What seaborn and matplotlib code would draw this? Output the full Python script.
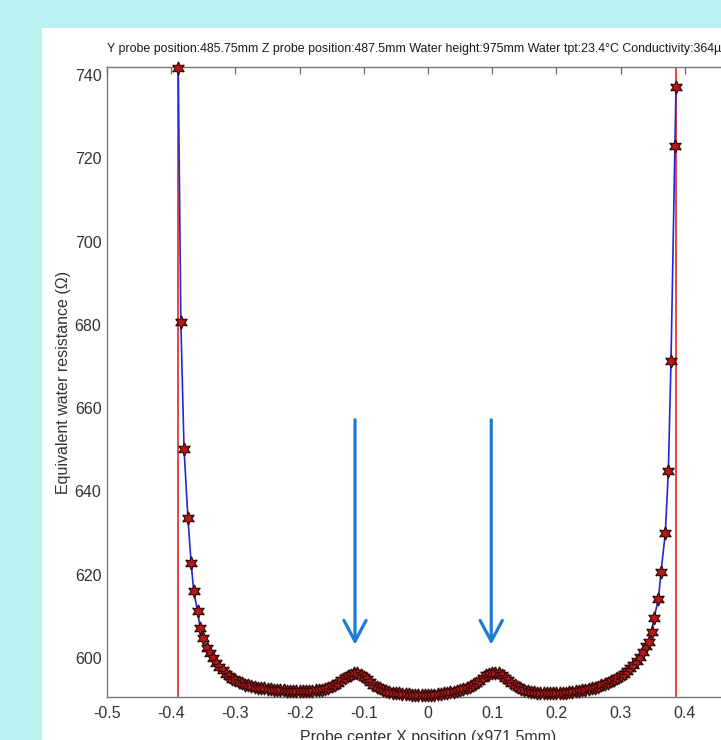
import matplotlib
matplotlib.use("Agg")
import matplotlib.pyplot as plt
from matplotlib import font_manager
from matplotlib.patches import Rectangle
import seaborn as sns
import pandas as pd

# ---- data ----
x_pos = [-0.389, -0.385, -0.380, -0.374, -0.369, -0.365, -0.359, -0.355, -0.350, -0.345,
         -0.340, -0.335, -0.330, -0.325, -0.320, -0.315, -0.310, -0.305, -0.300, -0.295,
         -0.290, -0.285, -0.280, -0.275, -0.270, -0.265, -0.260, -0.255, -0.250, -0.245,
         -0.240, -0.235, -0.230, -0.225, -0.220, -0.215, -0.210, -0.205, -0.200, -0.195,
         -0.190, -0.185, -0.180, -0.175, -0.170, -0.165, -0.160, -0.155, -0.150, -0.145,
         -0.140, -0.135, -0.130, -0.125, -0.120, -0.115, -0.110, -0.105, -0.100, -0.095,
         -0.090, -0.085, -0.080, -0.075, -0.070, -0.065, -0.060, -0.055, -0.050, -0.045,
         -0.040, -0.035, -0.030, -0.025, -0.020, -0.015, -0.010, -0.005, 0.000, 0.005,
         0.010, 0.015, 0.020, 0.025, 0.030, 0.035, 0.040, 0.045, 0.050, 0.055,
         0.060, 0.065, 0.070, 0.075, 0.080, 0.085, 0.090, 0.095, 0.100, 0.105,
         0.110, 0.115, 0.120, 0.125, 0.130, 0.135, 0.140, 0.145, 0.150, 0.155,
         0.160, 0.165, 0.170, 0.175, 0.180, 0.185, 0.190, 0.195, 0.200, 0.205,
         0.210, 0.215, 0.220, 0.225, 0.230, 0.235, 0.240, 0.245, 0.250, 0.255,
         0.260, 0.265, 0.270, 0.275, 0.280, 0.285, 0.290, 0.295, 0.300, 0.305,
         0.310, 0.315, 0.320, 0.325, 0.330, 0.335, 0.340, 0.3442, 0.3484, 0.352,
         0.3588, 0.363, 0.3697, 0.3744, 0.3785, 0.3847, 0.3863]
resistance = [741.7, 680.8, 650.2, 633.7, 622.9, 616.1, 611.3, 607.3, 604.8, 602.4,
              601.2, 600.1, 598.9, 597.8, 597.0, 596.2, 595.6, 595.0, 594.6, 594.2,
              593.9, 593.6, 593.4, 593.2, 593.0, 592.9, 592.8, 592.7, 592.6, 592.5,
              592.4, 592.3, 592.2, 592.2, 592.1, 592.1, 592.0, 592.0, 592.0, 592.0,
              592.0, 592.1, 592.1, 592.2, 592.3, 592.4, 592.6, 592.9, 593.2, 593.6,
              594.1, 594.6, 595.1, 595.6, 596.0, 596.3, 596.3, 596.0, 595.5, 594.9,
              594.2, 593.6, 593.1, 592.7, 592.3, 592.0, 591.8, 591.7, 591.6, 591.5,
              591.4, 591.3, 591.3, 591.2, 591.2, 591.2, 591.1, 591.1, 591.1, 591.2,
              591.2, 591.3, 591.4, 591.5, 591.6, 591.8, 591.9, 592.1, 592.3, 592.5,
              592.7, 593.0, 593.4, 593.9, 594.5, 595.1, 595.8, 596.2, 596.5, 596.5,
              596.3, 595.9, 595.3, 594.6, 594.0, 593.4, 593.0, 592.6, 592.3, 592.1,
              591.9, 591.8, 591.7, 591.6, 591.6, 591.6, 591.6, 591.6, 591.6, 591.6,
              591.7, 591.7, 591.8, 591.9, 592.0, 592.1, 592.2, 592.4, 592.5, 592.7,
              592.9, 593.1, 593.4, 593.7, 594.0, 594.4, 594.8, 595.2, 595.6, 596.2,
              596.8, 597.6, 598.4, 599.2, 600.2, 601.4, 602.8, 603.8, 606.3, 609.6,
              614.1, 620.7, 630.1, 645.0, 671.2, 723.0, 737.2]
boundary_x = [-0.389, 0.386]
arrow_x = [-0.1137, 0.0985]
arrow_y_top = 657.2
arrow_y_tip = 603.2
x_ticks = [-0.5, -0.4, -0.3, -0.2, -0.1, 0.0, 0.1, 0.2, 0.3, 0.4, 0.5]
x_tick_labels = ["-0.5", "-0.4", "-0.3", "-0.2", "-0.1", "0", "0.1", "0.2", "0.3", "0.4", ""]
y_ticks = [600, 620, 640, 660, 680, 700, 720, 740]
title_text = ("Y probe position:485.75mm Z probe position:487.5mm Water height:975mm "
              "Water tpt:23.4\u00b0C Conductivity:364\u00b5S/cm")
x_label = "Probe center X position (x971.5mm)"
y_label = "Equivalent water resistance (\u03a9)"

df = pd.DataFrame({"x": x_pos, "r": resistance})

sns.set_theme(style="white")
plt.rcParams["font.family"] = ["Liberation Sans", "DejaVu Sans"]
names = {f.name for f in font_manager.fontManager.ttflist}
narrow = "Liberation Sans Narrow" if "Liberation Sans Narrow" in names else None

W, H = 721, 740
fig = plt.figure(figsize=(W / 100, H / 100), dpi=100)
fig.patch.set_facecolor("#bcf1f1")
panel = Rectangle((42 / W, 0), 1.0, (H - 28) / H, transform=fig.transFigure,
                  facecolor="white", edgecolor="none", zorder=-10)
fig.add_artist(panel)

ax = fig.add_axes([107 / W, (H - 696.7) / H, 642 / W, (696.7 - 67.3) / H])
ax.set_zorder(1)
ax.set_facecolor("white")

for bx in boundary_x:
    ax.axvline(bx, color="#e23a34", lw=1.3, zorder=1)

sns.lineplot(data=df, x="x", y="r", ax=ax, sort=False, estimator=None,
             color="#2626d6", linewidth=1.2, marker=(6, 1, 0), markersize=9.5,
             markerfacecolor="#b41a1a", markeredgecolor="#3a0a0a",
             markeredgewidth=0.9, zorder=3, clip_on=False)

for axx in arrow_x:
    ax.annotate("", xy=(axx, arrow_y_tip), xytext=(axx, arrow_y_top),
                arrowprops=dict(arrowstyle="->,head_length=0.75,head_width=0.4",
                                color="#1f7ad6", lw=2.3, mutation_scale=20,
                                shrinkA=0, shrinkB=0))

ax.set_xlim(-0.5, 0.5)
ax.set_ylim(590.7, 741.85)
ax.set_xticks(x_ticks)
ax.set_xticklabels(x_tick_labels)
ax.set_yticks(y_ticks)
ax.tick_params(direction="in", length=5, width=0.9, color="#666666",
               top=True, right=True, labelsize=11.5, labelcolor="#333333")
ax.tick_params(axis="x", pad=7)
ax.tick_params(axis="y", pad=4)
for sp in ax.spines.values():
    sp.set_color("#777777")
    sp.set_linewidth(1.0)

tfam = [narrow, "DejaVu Sans"] if narrow else ["Liberation Sans", "DejaVu Sans"]
tsize = 10.3 if narrow else 8.9
ax.set_title(title_text, fontsize=tsize, color="#1a1a1a", pad=11, family=tfam)
ax.set_xlabel(x_label, fontsize=11.5, color="#333333", labelpad=6)
ax.set_ylabel(y_label, fontsize=11.5, color="#333333", labelpad=3)

fig.savefig("out.png", dpi=100, facecolor=fig.get_facecolor())
